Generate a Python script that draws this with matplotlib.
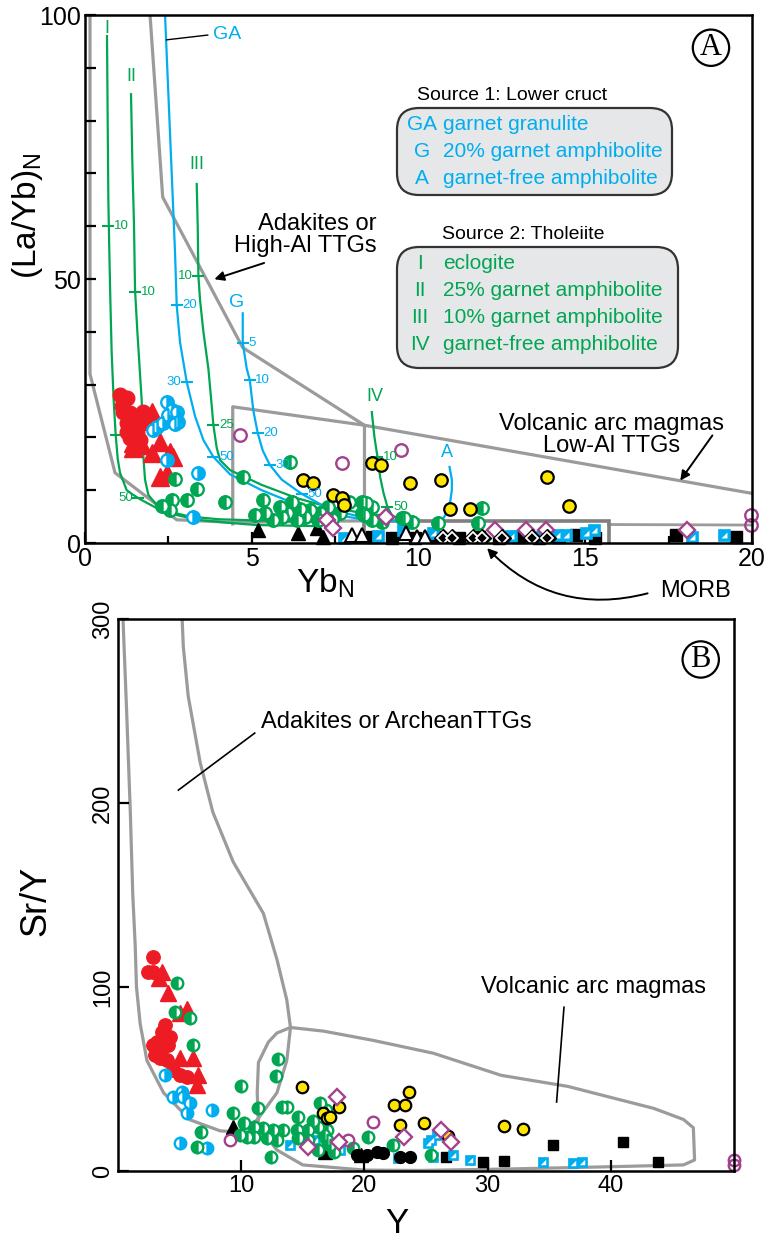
import numpy as np
import matplotlib
matplotlib.use('Agg')
import matplotlib.pyplot as plt
from matplotlib.patches import FancyBboxPatch, Polygon

plt.rcParams['font.family'] = ['Liberation Sans', 'DejaVu Sans']

GREEN = '#00A651'
CYAN = '#00AEEF'
RED = '#ED1C24'
YEL = '#FFE600'
PURP = '#A2418C'
GRAY = '#9B9B9B'

# ---------------- panel A data : Yb_N vs (La/Yb)_N ----------------
red_circ_A = np.array([(1.05, 28), (1.25, 27.5), (1.15, 24.8), (1.35, 24.6), (1.55, 23.9), (1.75, 24.8),
                       (1.25, 22.7), (1.45, 22), (1.25, 21), (1.55, 20.8), (1.35, 19.9), (1.65, 19.5),
                       (1.45, 23.3), (1.75, 22.7), (1.1, 26)])
red_tri_A = np.array([(2.0, 24.8), (1.8, 23.5), (2.25, 19.1), (1.45, 18), (2.0, 17), (2.55, 17.2),
                      (2.25, 12.5), (2.45, 13.2), (1.45, 19), (2.65, 16.3), (1.7, 18.5)])
cyan_circ_A = np.array([(2.45, 26.7), (2.6, 25.2), (2.75, 24.8), (2.5, 24.2), (2.35, 22.7), (2.15, 22),
                        (2.05, 21.4), (2.8, 23), (2.45, 15.7), (3.4, 13.2), (3.25, 5), (2.7, 22.6)])
green_circ_A = np.array([(2.7, 12.1), (3.35, 10.2), (3.05, 8.1), (2.6, 8.1), (2.3, 7), (2.55, 6.2),
                         (4.2, 7.8), (4.73, 12.5), (5.33, 8.1), (5.1, 5.3), (5.4, 5.7), (6.14, 15.3),
                         (5.63, 4.4), (5.84, 6.8), (6.05, 5.7), (6.35, 4.4), (6.74, 6.2), (7.04, 5.7),
                         (7.64, 5.7), (7.93, 7.8), (8.32, 7.8), (8.62, 6.8), (8.32, 5.7), (8.62, 4.4),
                         (9.52, 4.7), (9.82, 4.0), (8.92, 4.0), (8.44, 7.6), (8.38, 5.3), (9.58, 4.7),
                         (10.57, 3.8), (11.9, 6.6), (11.77, 3.8), (6.2, 7.8), (6.6, 5.0), (7.3, 6.8),
                         (5.9, 5.0), (6.45, 6.5), (7.0, 4.3), (7.4, 4.6)])
yellow_A = np.array([(6.53, 11.9), (6.83, 11.3), (7.43, 9.1), (7.72, 8.5), (7.78, 7.2), (8.62, 15.2),
                     (8.89, 14.8), (9.76, 11.3), (10.66, 11.9), (10.93, 6.5), (11.53, 6.4),
                     (13.86, 12.5), (14.52, 7.0)])
purp_circ_A = np.array([(4.64, 20.5), (7.72, 15.2), (9.49, 17.6), (19.97, 5.3), (19.97, 3.4)])
purp_dia_A = np.array([(7.25, 4.4), (7.43, 2.8), (9.04, 4.9), (12.28, 2.5), (13.23, 2.5), (13.83, 2.5),
                       (18.05, 2.5)])
black_tri_A = np.array([(5.18, 2.5), (6.38, 1.9), (6.95, 2.8), (7.13, 1.1)])
white_tri_A = np.array([(8.02, 1.6), (8.32, 1.6), (9.64, 1.8), (9.97, 1.2), (10.2, 1.2)])
cyan_sq_A = np.array([(7.78, 1.0), (8.8, 1.3), (9.55, 2.5), (10.42, 1.8), (12.78, 1.3), (13.5, 1.2),
                      (14.16, 1.5), (14.43, 1.5), (15.03, 1.9), (15.27, 2.5), (18.2, 1.1), (19.16, 1.5)])
black_sq_A = np.array([(8.6, 1.2), (9.2, 1.0), (9.9, 1.0), (10.5, 1.2), (11.2, 1.0), (11.8, 1.2),
                       (12.4, 1.0), (13.0, 1.2), (13.6, 1.0), (14.2, 1.2), (14.73, 1.5), (15.3, 1.0),
                       (17.72, 1.5), (19.52, 1.1)])
bw_dia_A = np.array([(10.72, 0.9), (10.99, 0.9), (11.62, 0.9), (11.89, 0.9), (12.49, 0.9),
                     (13.41, 0.9), (13.86, 0.9)])

# field outlines (panel A)
adakite_A = np.array([(0.15, 100), (0.15, 32), (0.9, 13.3), (2.75, 4.4), (4.43, 3.9), (8.38, 4.2),
                      (8.38, 22.3), (4.73, 37), (2.33, 65.5), (1.95, 100)])
arc_A = np.array([(4.43, 3.6), (4.43, 25.8), (8.38, 22.3), (20, 9.4)])
arc_base_A = np.array([(15.7, 3.5), (20, 3.4)])
morb_A = np.array([(8.38, 0), (8.38, 4.1), (15.7, 4.1), (15.7, 0)])

# melting curves (panel A)
curve_I = np.array([(0.66, 96), (0.68, 80), (0.7, 65), (0.73, 55), (0.76, 46), (0.8, 36), (0.86, 27),
                    (0.92, 20.5), (0.98, 16), (1.05, 13.3), (1.25, 10), (1.45, 9.1), (1.65, 8.3),
                    (2.15, 6.6), (2.75, 5.3), (3.35, 4.4), (4.35, 3.8), (5.15, 3.4), (7, 3.2)])
curve_II = np.array([(1.38, 85), (1.42, 72), (1.47, 60), (1.5, 48), (1.57, 40), (1.64, 33), (1.7, 27),
                     (1.72, 22), (1.74, 17.2), (1.8, 12), (1.9, 9.1), (2.15, 7.2), (2.55, 5.9),
                     (3.15, 5.0), (4, 4.5), (5.5, 4.2), (7, 4.0)])
curve_III = np.array([(3.35, 68), (3.38, 60), (3.4, 50.6), (3.45, 46), (3.55, 40), (3.7, 33), (3.8, 26),
                      (3.85, 22.3), (3.95, 18), (4.05, 15.7), (4.35, 13.8), (5.3, 11), (6.35, 8.5),
                      (7.2, 7.0), (8.2, 5.8), (9.2, 5.0), (10, 4.5)])
curve_IV = np.array([(8.6, 24.8), (8.68, 20), (8.77, 16.3), (8.85, 12.5), (8.95, 9.5), (9.07, 6.8),
                     (9.2, 5.3), (9.4, 4.4), (9.7, 3.8)])
curve_GA = np.array([(2.4, 100), (2.5, 85), (2.6, 70), (2.7, 55), (2.75, 45), (2.85, 38), (3.05, 30.5),
                     (3.3, 24), (3.55, 19.5), (3.85, 16.3), (4.35, 13), (5.3, 10), (6.35, 7.3),
                     (7.3, 5.6), (8.2, 4.6), (9, 4.1)])
curve_G = np.array([(4.73, 43.5), (4.73, 37.9), (4.85, 33), (4.94, 30.9), (5.05, 25), (5.18, 20.8),
                    (5.33, 17.5), (5.54, 14.8), (5.9, 12), (6.5, 9.3), (7.3, 6.5), (8.1, 5.2),
                    (8.9, 4.4), (9.5, 4.0)])
curve_A = np.array([(10.93, 14.4), (11.0, 12), (11.0, 10), (10.95, 7.8), (10.84, 5.7), (10.7, 4.2),
                    (10.57, 3.0)])

# % melt ticks on curves: x, y, label, side
green_ticks = [(0.7, 60, '10', 'r'), (0.92, 20.5, '', 'r'), (1.6, 8.5, '50', 'l'),
               (1.5, 47.5, '10', 'r'), (1.74, 17.2, '', 'r'),
               (3.4, 50.6, '10', 'l'), (3.85, 22.3, '25', 'r'),
               (8.77, 16.3, '10', 'r'), (9.07, 6.8, '50', 'r')]
blue_ticks = [(2.75, 45, '20', 'r'), (3.05, 30.5, '30', 'l'), (3.85, 16.3, '50', 'r'),
              (4.73, 37.9, '5', 'r'), (4.94, 30.9, '10', 'r'), (5.18, 20.8, '20', 'r'),
              (5.54, 14.8, '30', 'r'), (6.5, 9.3, '50', 'r')]

src1_keys = ['GA', 'G', 'A']
src1_text = ['garnet granulite', '20% garnet amphibolite', 'garnet-free amphibolite']
src2_keys = ['I', 'II', 'III', 'IV']
src2_text = ['eclogite', '25% garnet amphibolite', '10% garnet amphibolite', 'garnet-free amphibolite']

# ---------------- panel B data : Y vs Sr/Y ----------------
red_circ_B = np.array([(2.85, 116.5), (2.45, 108), (2.85, 108), (3.6, 75.7), (3.8, 74), (3.15, 70),
                       (2.85, 68.6), (3.6, 67), (4.05, 68.6), (3.4, 61.5), (3.95, 60.4), (4.5, 55),
                       (5.0, 52), (5.6, 51), (3.8, 79.5), (4.2, 73), (3.0, 63)])
red_tri_B = np.array([(3.6, 108), (4.05, 97), (5.05, 86), (5.6, 88), (5.05, 61.5), (6.1, 61.5),
                      (6.5, 52), (6.4, 47), (3.3, 105)])
green_circ_B = np.array([(4.8, 102), (4.65, 86.5), (5.85, 83), (6.1, 68.6), (13, 61), (12.8, 51.4),
                         (10, 46), (9.3, 31.5), (11.4, 34), (13.3, 35), (13.7, 35), (14.6, 29.4),
                         (16.4, 37), (10.2, 26), (11, 24), (11.8, 23.4), (12.6, 22.3), (13.4, 22.3),
                         (14.5, 22.3), (15.4, 22.3), (16.2, 24), (17, 22.3), (9.9, 19.6), (10.5, 18.5),
                         (11, 18.5), (12.1, 18), (12.9, 16.9), (14.6, 18), (15.4, 16.9), (16.7, 19.6),
                         (17, 16.9), (12.4, 7.6), (6.7, 21.2), (6.4, 13), (20.3, 18.5), (22.3, 14),
                         (16.2, 11.4), (17.5, 10.3), (19.1, 12.5), (17.2, 14), (25.4, 8.7), (15.8, 27),
                         (16.9, 33)])
cyan_circ_B = np.array([(3.8, 52), (4.5, 40), (5.2, 43), (5.3, 40), (5.85, 37), (5.6, 31.6),
                        (7.65, 33), (5.05, 15.2), (7.2, 12.5)])
yellow_B = np.array([(14.95, 45.7), (16.6, 31.6), (17.0, 28.8), (17.2, 29.4), (17.9, 35), (22.4, 36),
                     (23.3, 36), (23.6, 43), (22.9, 25), (24.8, 26), (31.3, 24.5), (32.9, 23),
                     (26.8, 19)])
purp_circ_B = np.array([(9.1, 16.9), (18.7, 16.9), (20.7, 26.7), (50, 6), (50, 3.3)])
purp_dia_B = np.array([(17.8, 40), (15.4, 13), (17.9, 15.8), (23.2, 18.5), (26.2, 22.3), (27, 15.8)])
black_tri_B = np.array([(9.35, 24), (16.8, 10.3), (19.7, 8.7)])
black_circ_B = np.array([(19.4, 8.7), (20.2, 8.7), (21, 10.3), (21.5, 9.8), (22.9, 7.6), (23.7, 7.6)])
cyan_sq_B = np.array([(14, 14), (16, 17), (18, 11.4), (22.7, 7), (25.4, 17), (25.2, 15.2), (25.9, 19.6),
                      (25.6, 7.6), (27.2, 8.7), (28.6, 6), (34.5, 4.9), (36.9, 4.4), (37.7, 4.9)])
black_sq_B = np.array([(29.6, 4.9), (31.3, 5.4), (35.3, 14), (41, 15.8), (43.8, 4.9), (26.6, 7.6)])

adakite_B = np.array([(0.4, 301), (0.7, 250), (1.0, 195), (1.2, 150), (1.4, 122), (1.5, 100), (1.8, 80),
                      (2.35, 60), (3.7, 42.5), (5.85, 27.8), (8.3, 21.8), (9.9, 21.2), (11.3, 27.8),
                      (12.9, 42.5), (13.7, 60), (14.0, 78), (13.7, 93), (12.9, 115), (11.8, 140),
                      (9.35, 168), (7.7, 195), (6.67, 222), (5.7, 258), (5.3, 285), (5.2, 301)])
arc_B = np.array([(11.4, 25), (11.3, 42.5), (11.4, 59), (12.2, 70), (12.9, 75), (14.0, 78), (16.7, 76),
                  (20.7, 71), (25.6, 64), (31.1, 52), (36.5, 46), (43.5, 34), (45.9, 28), (46.7, 23.5),
                  (46.8, 6), (45.9, 3.3), (39.2, 2.2), (31, 1), (24.5, 0.3), (20, 0.5), (15, 3.3),
                  (12.9, 11.4), (11.8, 20.7), (11.4, 25)])


def px(x, y):
    # pixel position in the 773x1240 picture -> figure fraction
    return x / 773.0, 1 - y / 1240.0


def scatter(ax, arr, **kw):
    ax.plot(arr[:, 0], arr[:, 1], ls='none', **kw)


def half_square(ax, arr, ms):
    scatter(ax, arr, marker='s', ms=ms, mfc=CYAN, mec=CYAN, mew=0.5, clip_on=False)
    scatter(ax, arr, marker=[(-1, -1), (1, -1), (1, 1), (-1, -1)], ms=ms * 0.5, mfc='white',
            mec='white', mew=0, clip_on=False)


def draw_points(ax, s, red_c, red_t, green_c, cyan_c, yellow, purp_c, purp_d, black_t, cyan_s, black_s):
    scatter(ax, black_s, marker='s', ms=8 * s, color='black', clip_on=False)
    scatter(ax, black_t, marker='^', ms=10.5 * s, color='black', clip_on=False)
    half_square(ax, cyan_s, 8.5 * s)
    scatter(ax, red_c, marker='o', ms=10.5 * s, mfc=RED, mec=RED)
    scatter(ax, red_t, marker='^', ms=12.5 * s, mfc=RED, mec=RED)
    scatter(ax, cyan_c, marker='o', ms=9 * s, fillstyle='right', mfc=CYAN, mfcalt='white',
            mec=CYAN, mew=1.7)
    scatter(ax, green_c, marker='o', ms=9 * s, fillstyle='left', mfc=GREEN, mfcalt='white',
            mec=GREEN, mew=1.7)
    scatter(ax, yellow, marker='o', ms=9 * s, mfc=YEL, mec='black', mew=1.6)
    scatter(ax, purp_c, marker='o', ms=9 * s, mfc='none', mec=PURP, mew=1.7, clip_on=False)
    scatter(ax, purp_d, marker='D', ms=8.5 * s, mfc='white', mec=PURP, mew=1.7, clip_on=False)


fig = plt.figure(figsize=(7.73, 12.4), dpi=100)

# ================= panel A =================
axA = fig.add_axes([85 / 773, 1 - 543 / 1240, 667 / 773, 528 / 1240])
axA.set_xlim(0, 20)
axA.set_ylim(0, 100)

axA.add_patch(Polygon(adakite_A, closed=False, fill=False, ec=GRAY, lw=2.3, zorder=1))
axA.plot(arc_A[:, 0], arc_A[:, 1], color=GRAY, lw=2.3, zorder=1)
axA.plot(arc_base_A[:, 0], arc_base_A[:, 1], color=GRAY, lw=2.0, zorder=1)
axA.add_patch(Polygon(morb_A, closed=False, fill=False, ec='#7F7F7F', lw=2.6, zorder=1))

for c in (curve_I, curve_II, curve_III, curve_IV):
    axA.plot(c[:, 0], c[:, 1], color=GREEN, lw=1.6, zorder=2)
for c in (curve_GA, curve_G, curve_A):
    axA.plot(c[:, 0], c[:, 1], color=CYAN, lw=1.6, zorder=2)

for ticks, col in ((green_ticks, GREEN), (blue_ticks, CYAN)):
    for x, y, lab, side in ticks:
        axA.plot(x, y, marker='_', ms=9, mew=1.5, color=col, zorder=2)
        if lab:
            off = 4 if side == 'r' else -4
            axA.annotate(lab, (x, y), xytext=(off, 0), textcoords='offset points',
                         ha='left' if side == 'r' else 'right', va='center', fontsize=9.5, color=col)

# curve names
axA.text(0.66, 97.5, 'I', color=GREEN, fontsize=13, ha='center', va='center')
axA.text(1.38, 88.3, 'II', color=GREEN, fontsize=13, ha='center', va='center')
axA.text(3.35, 71.6, 'III', color=GREEN, fontsize=13, ha='center', va='center')
axA.text(8.68, 27.7, 'IV', color=GREEN, fontsize=13, ha='center', va='center')
axA.text(4.55, 45.5, 'G', color=CYAN, fontsize=14, ha='center', va='center')
axA.text(10.84, 17.2, 'A', color=CYAN, fontsize=13, ha='center', va='center')
axA.plot([2.45, 3.68], [95.3, 96.2], color='black', lw=1)
axA.text(3.85, 96.4, 'GA', color=CYAN, fontsize=14, ha='left', va='center')

draw_points(axA, 1.0, red_circ_A, red_tri_A, green_circ_A, cyan_circ_A, yellow_A, purp_circ_A,
            purp_dia_A, black_tri_A, cyan_sq_A, black_sq_A)
scatter(axA, white_tri_A, marker='^', ms=10, mfc='white', mec='black', mew=1.5)
scatter(axA, bw_dia_A, marker='D', ms=9.5, color='black')
scatter(axA, bw_dia_A, marker='D', ms=6.5, mfc='black', mec='white', mew=1.3)

# field labels
axA.text(8.75, 58.3, 'Adakites or\nHigh-Al TTGs', fontsize=17, ha='right', va='center', linespacing=1.0)
axA.annotate('', xy=(3.8, 49.8), xytext=(5.45, 53.2),
             arrowprops=dict(arrowstyle='-|>', color='black', lw=1.4, mutation_scale=14))
axA.text(15.8, 20.5, 'Volcanic arc magmas\nLow-Al TTGs', fontsize=17, ha='center', va='center',
         linespacing=1.0)
axA.annotate('', xy=(17.8, 11.4), xytext=(18.86, 20.8),
             arrowprops=dict(arrowstyle='-|>', color='black', lw=1.4, mutation_scale=14))
axA.text(18.3, -9.0, 'MORB', fontsize=17, ha='center', va='center', clip_on=False)
axA.annotate('', xy=(12.0, -0.6), xytext=(16.95, -9.4), annotation_clip=False,
             arrowprops=dict(arrowstyle='-|>', color='black', lw=1.4, mutation_scale=14,
                             connectionstyle='arc3,rad=-0.3'))

axA.text(18.77, 93.8, 'A', fontsize=22, family=['Liberation Serif', 'DejaVu Serif'], ha='center',
         va='center', bbox=dict(boxstyle='circle,pad=0.12', fc='white', ec='black', lw=1.6))

axA.set_xticks([0, 5, 10, 15, 20])
axA.set_xticks([2.5, 7.5, 12.5, 17.5], minor=True)
axA.set_yticks([0, 50, 100])
axA.set_yticks(np.arange(10, 100, 10), minor=True)
axA.tick_params(which='both', direction='in', length=8, width=1.6, labelsize=18, pad=3)
axA.tick_params(axis='x', which='minor', length=5)
for sp in axA.spines.values():
    sp.set_linewidth(1.8)
axA.set_xlabel(r'Yb$_\mathregular{N}$', fontsize=24)
axA.xaxis.set_label_coords(0.36, -0.045)
axA.set_ylabel(r'(La/Yb)$_\mathregular{N}$', fontsize=24)
axA.yaxis.set_label_coords(-0.06, 0.62)

# legend boxes
tr = fig.dpi_scale_trans
fig.patches.append(FancyBboxPatch((3.97, 10.45), 2.75, 0.87, transform=tr, fc='#E6E7E8', ec='#333333',
                                  lw=1.6, boxstyle='round,pad=0,rounding_size=0.22'))
fig.patches.append(FancyBboxPatch((3.97, 8.72), 2.81, 1.21, transform=tr, fc='#E6E7E8', ec='#333333',
                                  lw=1.6, boxstyle='round,pad=0,rounding_size=0.22'))
fig.text(*px(417, 96), 'Source 1: Lower cruct', fontsize=14, ha='left', va='center')
fig.text(*px(442, 235), 'Source 2: Tholeiite', fontsize=14, ha='left', va='center')
for i, (k, t) in enumerate(zip(src1_keys, src1_text)):
    yy = 125 + 26.5 * i
    fig.text(*px(422, yy), k, fontsize=15, color=CYAN, ha='center', va='center')
    fig.text(*px(443, yy), t, fontsize=15, color=CYAN, ha='left', va='center')
for i, (k, t) in enumerate(zip(src2_keys, src2_text)):
    yy = 263 + 27.3 * i
    fig.text(*px(420, yy), k, fontsize=15, color=GREEN, ha='center', va='center')
    fig.text(*px(443, yy), t, fontsize=15, color=GREEN, ha='left', va='center')

# ================= panel B =================
axB = fig.add_axes([118 / 773, 1 - 1171 / 1240, 616 / 773, 552 / 1240])
axB.set_xlim(0, 50)
axB.set_ylim(0, 300)

axB.plot(adakite_B[:, 0], adakite_B[:, 1], color=GRAY, lw=2.3, zorder=1)
axB.plot(arc_B[:, 0], arc_B[:, 1], color=GRAY, lw=2.3, zorder=1)

draw_points(axB, 0.92, red_circ_B, red_tri_B, green_circ_B, cyan_circ_B, yellow_B, purp_circ_B,
            purp_dia_B, black_tri_B, cyan_sq_B, black_sq_B)
scatter(axB, black_circ_B, marker='o', ms=8.5, color='black')

axB.text(11.6, 244, 'Adakites or ArcheanTTGs', fontsize=17, ha='left', va='center')
axB.plot([11.1, 4.9], [238, 207], color='black', lw=1.2)
axB.text(29.5, 100, 'Volcanic arc magmas', fontsize=17, ha='left', va='center')
axB.plot([36.2, 35.6], [89, 37.5], color='black', lw=1.2)

axB.text(47.3, 278, 'B', fontsize=22, family=['Liberation Serif', 'DejaVu Serif'], ha='center',
         va='center', bbox=dict(boxstyle='circle,pad=0.12', fc='white', ec='black', lw=1.6))

axB.set_xticks([10, 20, 30, 40])
axB.set_yticks([0, 100, 200, 300])
axB.set_yticklabels(['0', '100', '200', '300'], rotation=90, va='center')
axB.tick_params(direction='in', length=8, width=1.6, labelsize=17, pad=3)
for sp in axB.spines.values():
    sp.set_linewidth(1.8)
axB.set_xlabel('Y', fontsize=25)
axB.xaxis.set_label_coords(0.453, -0.065)
axB.set_ylabel('Sr/Y', fontsize=26)
axB.yaxis.set_label_coords(-0.105, 0.49)

fig.savefig('out.png', dpi=100)
